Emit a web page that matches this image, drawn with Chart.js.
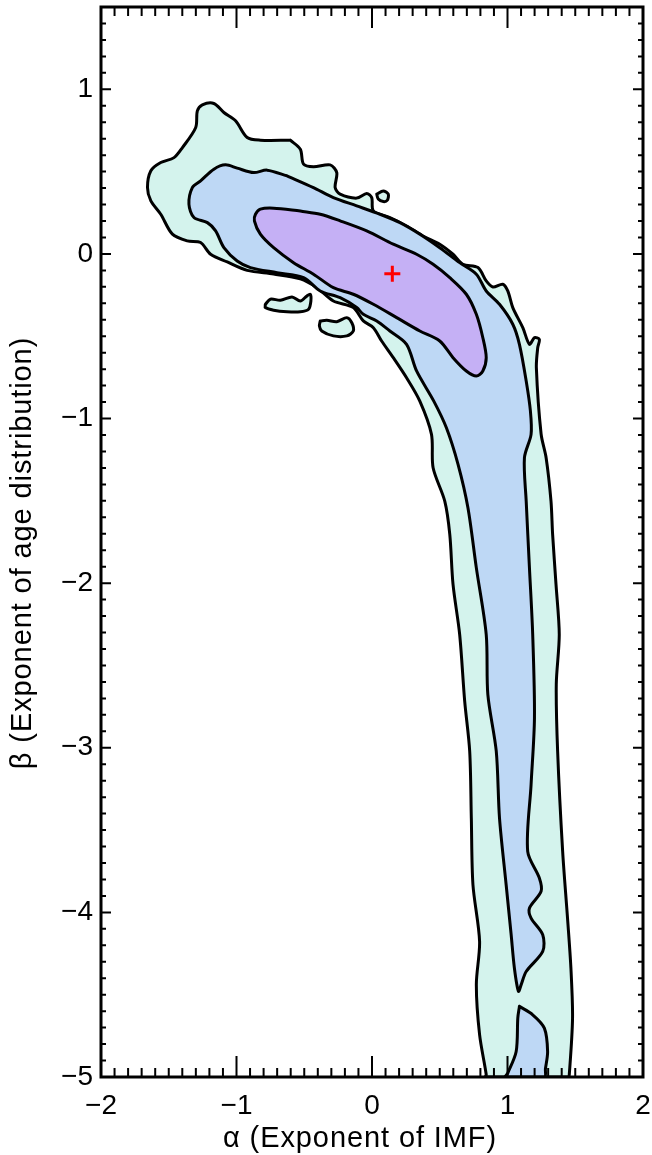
<!DOCTYPE html>
<html>
<head>
<meta charset="utf-8">
<script src="https://cdn.jsdelivr.net/npm/chart.js@4.4.1/dist/chart.umd.min.js"></script>
<style>
  html, body { margin: 0; padding: 0; background: #fff; }
  #wrap { width: 652px; height: 1155px; }
</style>
</head>
<body>
<div id="wrap"><canvas id="contourChart"></canvas></div>
<script>
// axis ranges and tick labels
const X_MIN = -2, X_MAX = 2;
const Y_MIN = -5, Y_MAX = 1.5;
const X_TICKS = [-2, -1, 0, 1, 2];
const Y_TICKS = [-5, -4, -3, -2, -1, 0, 1];

const X_TITLE = 'α (Exponent of IMF)';
const Y_TITLE = 'β (Exponent of age distribution)';

// best-fit point
const bestFit = [[0.15, -0.12]];

// innermost confidence region
const innerRegion = [
  [-0.529, 0.261], [-0.382, 0.241], [-0.235, 0.201], [-0.039, 0.140], [0.157, 0.059],
  [0.329, -0.002], [0.451, -0.063], [0.574, -0.144], [0.696, -0.245], [0.770, -0.367],
  [0.818, -0.509], [0.843, -0.630], [0.818, -0.711], [0.770, -0.742], [0.696, -0.711],
  [0.598, -0.630], [0.500, -0.529], [0.353, -0.468], [0.182, -0.387], [0.010, -0.306],
  [-0.138, -0.245], [-0.285, -0.205], [-0.432, -0.123], [-0.579, -0.053], [-0.726, 0.038],
  [-0.824, 0.120], [-0.868, 0.201], [-0.860, 0.241], [-0.824, 0.272], [-0.726, 0.278]
];

// middle region, main branch
const middleRegion = [
  [-0.627, 0.474], [-0.432, 0.403], [-0.285, 0.342], [-0.113, 0.292], [0.059, 0.241],
  [0.206, 0.190], [0.353, 0.120], [0.500, 0.038], [0.647, -0.053], [0.770, -0.123],
  [0.843, -0.225], [0.941, -0.306], [1.039, -0.427], [1.088, -0.549], [1.138, -0.772],
  [1.169, -0.954], [1.174, -1.096], [1.125, -1.238], [1.138, -1.502], [1.162, -1.907],
  [1.186, -2.312], [1.199, -2.819], [1.174, -3.224], [1.149, -3.629], [1.235, -3.791],
  [1.248, -3.872], [1.162, -3.974], [1.174, -4.035], [1.260, -4.136], [1.260, -4.237],
  [1.138, -4.359], [1.101, -4.439], [1.081, -4.480], [1.051, -4.339], [1.027, -4.136],
  [0.990, -3.832], [0.941, -3.427], [0.917, -3.021], [0.855, -2.677], [0.843, -2.312],
  [0.770, -1.907], [0.708, -1.542], [0.635, -1.278], [0.549, -1.056], [0.456, -0.894],
  [0.329, -0.711], [0.255, -0.549], [0.132, -0.468], [0.035, -0.407], [-0.064, -0.367],
  [-0.113, -0.326], [-0.235, -0.266], [-0.382, -0.225], [-0.505, -0.144], [-0.701, -0.114],
  [-0.897, -0.083], [-0.995, -0.043], [-1.093, 0.038], [-1.154, 0.140], [-1.215, 0.190],
  [-1.314, 0.221], [-1.351, 0.302], [-1.326, 0.403], [-1.265, 0.444], [-1.167, 0.515],
  [-1.081, 0.541], [-0.995, 0.521], [-0.873, 0.494], [-0.774, 0.509]
];

// middle region, piece below the pinch
const middleTail = [
  [1.088, -4.571], [1.186, -4.622], [1.272, -4.703], [1.296, -4.845], [1.280, -4.950],
  [1.272, -5.000], [0.985, -5.000], [1.002, -4.976], [1.064, -4.845], [1.076, -4.642]
];

// outer region
const outerRegion = [
  [-0.603, 0.691], [-0.529, 0.636], [-0.505, 0.545], [-0.432, 0.529], [-0.309, 0.541],
  [-0.260, 0.494], [-0.272, 0.403], [-0.235, 0.363], [-0.113, 0.339], [-0.039, 0.367],
  [-0.002, 0.342], [0.010, 0.261], [0.132, 0.221], [0.255, 0.170], [0.377, 0.109],
  [0.500, 0.059], [0.598, -0.002], [0.671, -0.063], [0.782, -0.083], [0.843, -0.164],
  [0.892, -0.201], [0.965, -0.184], [1.002, -0.225], [1.039, -0.326], [1.113, -0.448],
  [1.162, -0.549], [1.199, -0.509], [1.235, -0.519], [1.223, -0.570], [1.213, -0.691],
  [1.248, -1.094], [1.285, -1.238], [1.321, -1.502], [1.333, -1.704], [1.358, -2.008],
  [1.382, -2.312], [1.360, -2.614], [1.370, -3.021], [1.407, -3.629], [1.443, -4.035],
  [1.468, -4.339], [1.480, -4.643], [1.456, -4.985], [1.449, -5.000], [0.838, -5.000],
  [0.843, -4.985], [0.794, -4.743], [0.770, -4.439], [0.794, -4.176], [0.745, -3.832],
  [0.733, -3.427], [0.721, -3.021], [0.684, -2.717], [0.647, -2.312], [0.598, -2.008],
  [0.574, -1.704], [0.537, -1.502], [0.451, -1.299], [0.439, -1.096], [0.353, -0.894],
  [0.255, -0.752], [0.157, -0.630], [0.071, -0.529], [0.010, -0.448], [-0.064, -0.407],
  [-0.138, -0.326], [-0.285, -0.286], [-0.407, -0.205], [-0.529, -0.152], [-0.726, -0.122],
  [-0.921, -0.100], [-1.068, -0.049], [-1.191, -0.002], [-1.265, 0.069], [-1.363, 0.079],
  [-1.473, 0.120], [-1.559, 0.241], [-1.632, 0.322], [-1.657, 0.403], [-1.632, 0.505],
  [-1.559, 0.555], [-1.461, 0.585], [-1.399, 0.646], [-1.301, 0.768], [-1.289, 0.869],
  [-1.252, 0.906], [-1.167, 0.914], [-1.093, 0.859], [-1.007, 0.809], [-0.921, 0.707],
  [-0.824, 0.691]
];

// detached pieces of the outer region
const outerIslandA = [
  [-0.787, -0.306], [-0.750, -0.275], [-0.676, -0.281], [-0.590, -0.261], [-0.529, -0.286],
  [-0.480, -0.255], [-0.456, -0.245], [-0.451, -0.286], [-0.468, -0.336], [-0.529, -0.351],
  [-0.627, -0.351], [-0.726, -0.342], [-0.787, -0.326]
];
const outerIslandB = [
  [-0.382, -0.407], [-0.333, -0.403], [-0.260, -0.412], [-0.186, -0.387], [-0.149, -0.418],
  [-0.138, -0.468], [-0.186, -0.498], [-0.285, -0.498], [-0.371, -0.468], [-0.388, -0.438]
];
const outerIslandC = [
  [0.035, 0.363], [0.083, 0.383], [0.120, 0.363], [0.113, 0.326], [0.083, 0.318], [0.046, 0.333]
];

const COLORS = { outer: '#d4f3ed', middle: '#bed8f5', inner: '#c5b0f5' };
const FONT_FAMILY = '"Liberation Sans", Arial, Helvetica, sans-serif';

const toXY = pts => pts.map(([x, y]) => ({ x, y }));

function region(pts, color) {
  return {
    type: 'line',
    data: toXY([...pts, pts[0]]),
    showLine: true,
    fill: 'shape',
    backgroundColor: color,
    borderColor: '#000',
    borderWidth: 3,
    borderJoinStyle: 'round',
    borderCapStyle: 'round',
    tension: 0.3,
    pointRadius: 0,
    pointHoverRadius: 0
  };
}

// dataset 0 is drawn last, so the marker and inner region come first
const datasets = [
  {
    type: 'line',
    data: toXY(bestFit),
    showLine: false,
    pointStyle: 'cross',
    pointRadius: 8,
    pointBorderColor: '#ff0000',
    pointBorderWidth: 3
  },
  region(innerRegion, COLORS.inner),
  region(middleRegion, COLORS.middle),
  region(middleTail, COLORS.middle),
  region(outerIslandA, COLORS.outer),
  region(outerIslandB, COLORS.outer),
  region(outerIslandC, COLORS.outer),
  region(outerRegion, COLORS.outer)
];

const fmt = v => (v < 0 ? '\u2212' + Math.abs(v) : String(v));

// box, inward ticks on all four sides, axis titles
const framePlugin = {
  id: 'frame',
  afterDraw(chart) {
    const { ctx, chartArea: a, scales: { x, y } } = chart;
    ctx.save();
    ctx.strokeStyle = '#000';
    ctx.lineWidth = 2;
    ctx.beginPath();
    for (let i = X_MIN * 10; i <= X_MAX * 10; i++) {
      const px = x.getPixelForValue(i / 10);
      const len = i % 10 === 0 ? 21 : 9;
      ctx.moveTo(px, a.bottom); ctx.lineTo(px, a.bottom - len);
      ctx.moveTo(px, a.top); ctx.lineTo(px, a.top + len);
    }
    for (let i = Y_MIN * 10; i <= Y_MAX * 10; i++) {
      const py = y.getPixelForValue(i / 10);
      const len = i % 10 === 0 ? 10 : 5;
      ctx.moveTo(a.left, py); ctx.lineTo(a.left + len, py);
      ctx.moveTo(a.right, py); ctx.lineTo(a.right - len, py);
    }
    ctx.stroke();
    ctx.lineWidth = 3;
    ctx.strokeRect(a.left, a.top, a.width, a.height);

    ctx.fillStyle = '#000';
    ctx.font = '29px ' + FONT_FAMILY;
    ctx.letterSpacing = '0.9px';
    ctx.textAlign = 'center';
    ctx.textBaseline = 'alphabetic';
    ctx.fillText(X_TITLE, 360, 1147);
    ctx.translate(31, 553);
    ctx.rotate(-Math.PI / 2);
    ctx.fillText(Y_TITLE, 0, 0);
    ctx.restore();
  }
};

new Chart(document.getElementById('contourChart'), {
  type: 'line',
  data: { datasets },
  options: {
    responsive: true,
    maintainAspectRatio: false,
    animation: false,
    layout: { autoPadding: false, padding: { top: 7, right: 9, left: 0, bottom: 0 } },
    plugins: {
      legend: { display: false },
      tooltip: { enabled: false },
      filler: { drawTime: 'beforeDatasetDraw' }
    },
    scales: {
      x: {
        type: 'linear',
        min: X_MIN,
        max: X_MAX,
        grid: { display: false, drawTicks: false },
        border: { display: false },
        afterBuildTicks: s => { s.ticks = X_TICKS.map(v => ({ value: v })); },
        afterFit: s => { s.height = 78; s.paddingLeft = 0; s.paddingRight = 0; },
        ticks: {
          color: '#000',
          font: { family: FONT_FAMILY, size: 28 },
          padding: 12,
          maxRotation: 0,
          autoSkip: false,
          callback: fmt
        }
      },
      y: {
        type: 'linear',
        min: Y_MIN,
        max: Y_MAX,
        grid: { display: false, drawTicks: false },
        border: { display: false },
        afterBuildTicks: s => { s.ticks = Y_TICKS.map(v => ({ value: v })); },
        afterFit: s => { s.width = 101; s.paddingTop = 0; s.paddingBottom = 0; },
        ticks: {
          color: '#000',
          font: { family: FONT_FAMILY, size: 28 },
          padding: 8,
          autoSkip: false,
          callback: fmt
        }
      }
    }
  },
  plugins: [framePlugin]
});
</script>
</body>
</html>
